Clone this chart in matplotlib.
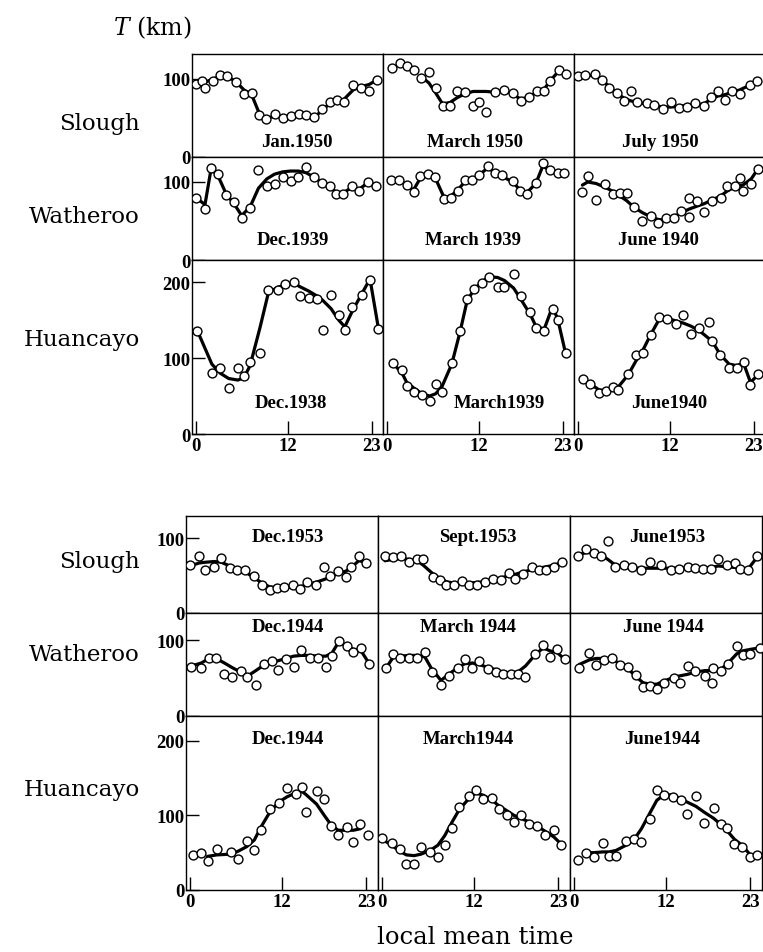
#!/usr/bin/env python3
"""
Diurnal variation of T (km) at Slough, Watheroo and Huancayo
"""

import matplotlib
matplotlib.use('Agg')
import matplotlib.pyplot as plt

plt.rcParams['font.family'] = ['Liberation Serif', 'DejaVu Serif']
plt.rcParams['mathtext.fontset'] = 'dejavuserif'

# ---- data: local mean time (h), observed T (km), fitted curve T (km) ----
# upper block
slough_jan1950_h = [0.0, 0.8, 1.2, 2.3, 3.1, 4.1, 5.2, 6.3, 7.3, 8.3, 9.2, 10.4, 11.4, 12.5, 13.5, 14.4, 15.5, 16.5, 17.5, 18.5, 19.4, 20.6, 21.6, 22.7, 23.7]
slough_jan1950_obs = [94, 98, 89, 98, 105, 104, 96, 81, 82, 54, 49, 55, 50, 53, 55, 54, 51, 62, 70, 73, 71, 92, 88, 84, 99]
slough_jan1950_fit = [93, 95, 96, 100, 103, 103, 97, 86, 80, 56, 50, 52, 52, 52, 52, 51, 50, 60, 68, 71, 74, 86, 90, 93, 99]

slough_mar1950_h = [0.7, 1.7, 2.7, 3.6, 4.5, 5.5, 6.4, 7.3, 8.3, 9.2, 10.2, 11.3, 12.1, 13.0, 14.2, 15.4, 16.5, 17.5, 18.6, 19.6, 20.6, 21.4, 22.5, 23.5]
slough_mar1950_obs = [114, 120, 117, 112, 101, 109, 88, 66, 66, 85, 83, 65, 70, 58, 83, 86, 82, 72, 77, 84, 84, 98, 112, 107]
slough_mar1950_fit = [None, None, None, None, 103, 95, 82, 68, 70, 76, 81, 84, 84, 84, 83, 85, 81, 74, 77, 83, 87, 98, 110, None]

slough_jul1950_h = [0.0, 1.0, 2.2, 3.2, 4.1, 5.1, 6.1, 6.9, 7.8, 9.0, 10.0, 11.1, 12.2, 13.2, 14.3, 15.4, 16.5, 17.4, 18.3, 19.3, 20.2, 21.2, 22.5, 23.4]
slough_jul1950_obs = [104, 105, 106, 99, 89, 82, 72, 84, 70, 69, 67, 62, 71, 63, 64, 69, 65, 77, 84, 73, 85, 81, 92, 97]
slough_jul1950_fit = [103, 105, 104, 99, 90, 82, 75, 72, 70, 68, 66, 64, 64, 65, 66, 67, 68, 74, 78, 80, 83, 86, 92, 97]

watheroo_dec1939_h = [0.0, 1.2, 2.0, 2.9, 4.0, 5.0, 6.0, 7.1, 8.2, 9.3, 10.3, 11.4, 12.4, 13.4, 14.4, 15.5, 16.5, 17.5, 18.3, 19.3, 20.4, 21.3, 22.5, 23.6]
watheroo_dec1939_obs = [79, 65, 118, 110, 83, 74, 54, 67, 115, 95, 98, 106, 101, 106, 119, 106, 99, 95, 84, 84, 95, 88, 100, 95]
watheroo_dec1939_fit = [80, 71, 117, 108, 84, 72, 57, 68, 92, 104, 110, 113, 114, 114, 112, 106, 99, 95, 87, 86, 93, 90, 99, 95]

watheroo_mar1939_h = [0.6, 1.6, 2.6, 3.5, 4.4, 5.4, 6.3, 7.5, 8.4, 9.3, 10.2, 11.2, 12.1, 13.2, 14.2, 15.1, 16.5, 17.4, 18.3, 19.5, 20.4, 21.4, 22.4, 23.2]
watheroo_mar1939_obs = [103, 102, 96, 87, 108, 110, 107, 78, 79, 88, 103, 103, 109, 121, 112, 109, 101, 88, 85, 99, 124, 115, 111, 111]
watheroo_mar1939_fit = [None, None, 95, 90, 105, 108, 106, 80, 82, 90, 100, 104, 109, 118, 112, 107, 100, 90, 86, 98, 120, 115, None, None]

watheroo_jun1940_h = [0.6, 1.3, 2.4, 3.6, 4.6, 5.5, 6.4, 7.3, 8.4, 9.6, 10.5, 11.5, 12.6, 13.5, 14.5, 14.6, 15.6, 16.5, 17.6, 18.7, 19.5, 20.6, 21.2, 21.6, 22.7, 23.6]
watheroo_jun1940_obs = [87, 108, 77, 97, 85, 86, 86, 68, 50, 57, 48, 54, 54, 63, 55, 80, 76, 62, 76, 80, 95, 95, 105, 88, 97, 117]
watheroo_jun1940_fit = [96, 100, 98, 93, 88, 82, 76, 68, 61, 55, 52, 51, 56, 60, 65, None, 69, 72, 77, 82, 88, 94, None, 96, 104, 117]

huancayo_dec1938_h = [0.2, 2.1, 3.2, 4.3, 5.5, 6.3, 7.1, 8.4, 9.5, 10.7, 11.7, 12.8, 13.6, 14.8, 15.8, 16.6, 17.7, 18.7, 19.5, 20.5, 21.8, 22.8, 23.9]
huancayo_dec1938_obs = [136, 80, 87, 60, 87, 76, 95, 107, 190, 189, 197, 200, 182, 179, 178, 137, 183, 157, 137, 167, 183, 203, 138]
huancayo_dec1938_fit = [136, 92, 80, 73, 71, 74, 90, 140, 186, 193, 196, 199, 194, 188, 182, 176, 165, 150, 141, 162, 186, 204, 139]

huancayo_mar1939_h = [0.8, 2.0, 2.6, 3.6, 4.6, 5.6, 6.4, 7.2, 8.5, 9.6, 10.5, 11.4, 12.4, 13.4, 14.5, 15.4, 16.6, 17.5, 18.8, 19.5, 20.6, 21.7, 22.4, 23.4]
huancayo_mar1939_obs = [93, 84, 63, 55, 51, 44, 66, 55, 93, 135, 178, 191, 199, 207, 194, 194, 210, 181, 161, 140, 136, 165, 150, 106]
huancayo_mar1939_fit = [93, 80, 68, 60, 53, 50, 53, 62, 92, 135, 175, 190, 200, 207, 206, 202, 192, 178, 157, 142, 138, 168, 150, 106]

huancayo_jun1940_h = [0.7, 1.6, 2.8, 3.7, 4.6, 5.3, 6.6, 7.6, 8.5, 9.6, 10.6, 11.7, 12.8, 13.8, 14.8, 15.9, 17.2, 17.6, 18.6, 19.8, 20.8, 21.7, 22.6, 23.6]
huancayo_jun1940_obs = [72, 66, 54, 56, 62, 58, 79, 104, 107, 130, 154, 152, 145, 157, 131, 140, 147, 123, 104, 87, 87, 95, 65, 79]
huancayo_jun1940_fit = [72, 66, 58, 57, 58, 62, 78, 96, 110, 132, 150, 152, 149, 146, 142, 136, None, 122, 105, 92, 90, 93, 68, 78]

# lower block
slough_dec1953_h = [0.0, 1.2, 2.0, 3.2, 4.1, 5.2, 6.2, 7.2, 8.3, 9.4, 10.4, 11.4, 12.3, 13.4, 14.3, 15.3, 16.4, 17.5, 18.3, 19.3, 20.3, 21.0, 22.0, 23.0]
slough_dec1953_obs = [64, 76, 58, 62, 74, 60, 58, 57, 49, 37, 31, 33, 35, 38, 32, 41, 38, 61, 49, 56, 48, 61, 76, 67]
slough_dec1953_fit = [63, 67, 68, 69, 68, 63, 59, 55, 48, 40, 35, 34, 34, 35, 35, 38, 41, 45, 48, 53, 56, 61, 70, 68]

slough_sep1953_h = [0.4, 1.5, 2.5, 3.5, 4.6, 5.4, 6.6, 7.6, 8.4, 9.4, 10.4, 11.3, 12.4, 13.4, 14.5, 15.5, 16.5, 17.4, 18.4, 19.5, 20.4, 21.4, 22.4, 23.5]
slough_sep1953_obs = [76, 75, 76, 68, 73, 72, 48, 44, 38, 37, 43, 38, 38, 41, 46, 44, 54, 46, 52, 61, 58, 58, 61, 69]
slough_sep1953_fit = [70, 72, 73, 72, 70, 64, 53, 46, 42, 40, 40, 40, 41, 42, 44, 47, 50, 52, 55, 58, 60, 62, 64, 68]

slough_jun1953_h = [0.6, 1.6, 2.6, 3.5, 4.4, 5.3, 6.5, 7.6, 8.7, 9.9, 11.3, 12.6, 13.7, 14.8, 15.8, 16.8, 17.8, 18.8, 19.9, 21.0, 21.7, 22.7, 23.8]
slough_jun1953_obs = [76, 86, 81, 76, 96, 61, 64, 61, 57, 68, 65, 58, 59, 61, 60, 59, 59, 72, 64, 67, 59, 58, 76]
slough_jun1953_fit = [78, 81, 81, 78, 72, 65, 62, 60, 60, 60, 60, 60, 60, 60, 60, 60, 61, 63, 62, 61, 59, 59, 74]

watheroo_dec1944_h = [0.2, 1.5, 2.5, 3.4, 4.5, 5.5, 6.6, 7.4, 8.6, 9.6, 10.7, 11.5, 12.5, 13.5, 14.5, 15.6, 16.7, 17.7, 18.5, 19.4, 20.4, 21.3, 22.3, 23.3]
watheroo_dec1944_obs = [65, 64, 76, 76, 56, 52, 59, 51, 41, 69, 72, 61, 75, 65, 87, 76, 76, 65, 79, 99, 93, 85, 90, 69]
watheroo_dec1944_fit = [66, 70, 76, 76, 70, 64, 58, 52, 60, 67, 71, 73, 76, 79, 80, 80, 79, 79, 83, 98, 92, 88, 86, 70]

watheroo_mar1944_h = [0.6, 1.5, 2.4, 3.5, 4.6, 5.6, 6.5, 7.7, 8.7, 9.9, 10.8, 11.8, 12.7, 13.8, 14.9, 15.8, 16.8, 17.7, 18.7, 19.9, 21.0, 21.9, 22.8, 23.8]
watheroo_mar1944_obs = [64, 82, 76, 76, 76, 85, 58, 41, 53, 64, 75, 64, 73, 62, 58, 55, 56, 56, 51, 82, 94, 78, 89, 75]
watheroo_mar1944_fit = [64, 78, 79, 80, 80, 78, 62, 47, 55, 64, 69, 70, 68, 64, 61, 58, 57, 58, 66, 80, 90, 86, 84, 75]

watheroo_jun1944_h = [0.7, 2.0, 2.9, 3.9, 5.0, 6.0, 7.1, 8.1, 9.0, 9.9, 10.8, 11.7, 13.0, 13.8, 14.8, 15.8, 17.1, 18.0, 18.1, 19.2, 20.1, 21.2, 22.0, 23.0, 24.2]
watheroo_jun1944_obs = [64, 83, 68, 74, 76, 67, 65, 54, 38, 40, 36, 44, 50, 44, 66, 60, 53, 44, 63, 60, 69, 92, 81, 82, 90]
watheroo_jun1944_fit = [68, 74, 76, 76, 75, 69, 62, 52, 44, 42, 42, 46, 51, 53, 55, 58, 60, None, 60, 62, 70, 82, 86, 88, 90]

huancayo_dec1944_h = [0.4, 1.5, 2.3, 3.5, 5.3, 6.3, 7.4, 8.4, 9.3, 10.4, 11.6, 12.7, 13.8, 14.6, 15.1, 16.5, 17.5, 18.4, 19.3, 20.4, 21.3, 22.2, 23.2]
huancayo_dec1944_obs = [47, 49, 39, 55, 51, 41, 66, 54, 81, 109, 116, 137, 128, 138, 105, 133, 122, 86, 73, 85, 64, 88, 73]
huancayo_dec1944_fit = [None, None, 45, 47, 48, 52, 58, 67, 85, 104, 118, 125, 130, 132, 128, 115, 100, 87, 80, 80, 80, 82, None]

huancayo_mar1944_h = [0.0, 1.3, 2.3, 3.2, 4.2, 5.1, 6.3, 7.3, 8.2, 9.2, 10.1, 11.3, 12.2, 13.2, 14.4, 15.2, 16.3, 17.2, 18.1, 19.2, 20.2, 21.2, 22.4, 23.3]
huancayo_mar1944_obs = [69, 63, 55, 35, 35, 58, 51, 44, 60, 83, 111, 126, 134, 122, 123, 108, 100, 91, 101, 88, 86, 74, 81, 60]
huancayo_mar1944_fit = [68, 60, 52, 47, 46, 48, 53, 60, 73, 92, 108, 122, 130, 127, 120, 113, 106, 100, 96, 91, 86, 79, 71, 62]

huancayo_jun1944_h = [0.6, 1.6, 2.6, 3.8, 4.6, 5.5, 6.8, 7.8, 8.8, 9.9, 10.8, 11.8, 12.9, 13.9, 14.7, 15.9, 17.0, 18.2, 19.1, 19.9, 20.9, 21.9, 22.9, 23.8]
huancayo_jun1944_obs = [40, 50, 44, 63, 46, 46, 66, 68, 64, 95, 134, 127, 125, 120, 102, 126, 90, 110, 88, 83, 62, 58, 44, 47]
huancayo_jun1944_fit = [None, 50, 50, 51, 51, 53, 60, 67, 82, 103, 120, 128, 127, 122, 118, 112, 104, 96, 88, 80, 68, 60, 48, None]

# each block: rows of (station, ymax, yticks, panels), panel = (h, obs, fit, title)
upper_block = [
    ('Slough', 132, [0, 100], [
        (slough_jan1950_h, slough_jan1950_obs, slough_jan1950_fit, 'Jan.1950'),
        (slough_mar1950_h, slough_mar1950_obs, slough_mar1950_fit, 'March 1950'),
        (slough_jul1950_h, slough_jul1950_obs, slough_jul1950_fit, 'July 1950')]),
    ('Watheroo', 132, [0, 100], [
        (watheroo_dec1939_h, watheroo_dec1939_obs, watheroo_dec1939_fit, 'Dec.1939'),
        (watheroo_mar1939_h, watheroo_mar1939_obs, watheroo_mar1939_fit, 'March 1939'),
        (watheroo_jun1940_h, watheroo_jun1940_obs, watheroo_jun1940_fit, 'June 1940')]),
    ('Huancayo', 229, [0, 100, 200], [
        (huancayo_dec1938_h, huancayo_dec1938_obs, huancayo_dec1938_fit, 'Dec.1938'),
        (huancayo_mar1939_h, huancayo_mar1939_obs, huancayo_mar1939_fit, 'March1939'),
        (huancayo_jun1940_h, huancayo_jun1940_obs, huancayo_jun1940_fit, 'June1940')]),
]
lower_block = [
    ('Slough', 130, [0, 100], [
        (slough_dec1953_h, slough_dec1953_obs, slough_dec1953_fit, 'Dec.1953'),
        (slough_sep1953_h, slough_sep1953_obs, slough_sep1953_fit, 'Sept.1953'),
        (slough_jun1953_h, slough_jun1953_obs, slough_jun1953_fit, 'June1953')]),
    ('Watheroo', 136, [0, 100], [
        (watheroo_dec1944_h, watheroo_dec1944_obs, watheroo_dec1944_fit, 'Dec.1944'),
        (watheroo_mar1944_h, watheroo_mar1944_obs, watheroo_mar1944_fit, 'March 1944'),
        (watheroo_jun1944_h, watheroo_jun1944_obs, watheroo_jun1944_fit, 'June 1944')]),
    ('Huancayo', 233, [0, 100, 200], [
        (huancayo_dec1944_h, huancayo_dec1944_obs, huancayo_dec1944_fit, 'Dec.1944'),
        (huancayo_mar1944_h, huancayo_mar1944_obs, huancayo_mar1944_fit, 'March1944'),
        (huancayo_jun1944_h, huancayo_jun1944_obs, huancayo_jun1944_fit, 'June1944')]),
]

# ---- layout in pixels ----
W, H = 763, 953
upper_rows_px = [(55, 158), (158, 261), (261, 435)]
upper_cols_px = [(192, 383), (383, 574), (574, 765)]
lower_rows_px = [(517, 614), (614, 717), (717, 891)]
lower_cols_px = [(186, 378), (378, 570), (570, 762)]

upper_title_pos = [[(0.55, 0.15), (0.48, 0.15), (0.45, 0.15)],
                   [(0.53, 0.20), (0.47, 0.20), (0.44, 0.20)],
                   [(0.52, 0.18), (0.61, 0.18), (0.50, 0.18)]]
lower_title_pos = [[(0.53, 0.79), (0.52, 0.79), (0.505, 0.79)],
                   [(0.53, 0.865), (0.47, 0.865), (0.485, 0.865)],
                   [(0.53, 0.87), (0.47, 0.87), (0.48, 0.87)]]
upper_label_y = [124, 217, 340]
lower_label_y = [562, 655, 790]

num_font = dict(family='Liberation Serif', weight='bold', size=13.5)
word_font = dict(family='DejaVu Serif', size=16.5)

fig = plt.figure(figsize=(W / 100, H / 100), dpi=100)


def px_rect(x0, x1, y0, y1):
    return [x0 / W, 1 - y1 / H, (x1 - x0) / W, (y1 - y0) / H]


def draw_block(block, rows_px, cols_px, title_pos, label_y):
    for r, (station, ymax, yticks, panels) in enumerate(block):
        y0, y1 = rows_px[r]
        last_row = r == len(block) - 1
        for c, (h, obs, fit, title) in enumerate(panels):
            x0, x1 = cols_px[c]
            ax = fig.add_axes(px_rect(x0, x1, y0, y1))
            fh = [x for x, f in zip(h, fit) if f is not None]
            ff = [f for f in fit if f is not None]
            ax.plot(fh, ff, color='black', lw=2.3, solid_joinstyle='round',
                    solid_capstyle='round', zorder=2)
            ax.plot(h, obs, 'o', ms=6.4, mfc='white', mec='black', mew=1.0, zorder=3)
            ax.set_xlim(-0.5, 24.5)
            ax.set_ylim(0, ymax)
            for sp in ax.spines.values():
                sp.set_linewidth(1.0)
            tx, ty = title_pos[r][c]
            ax.text(tx, ty, title, transform=ax.transAxes, ha='center', va='center',
                    **num_font)
            if c == 0:
                ax.set_yticks(yticks)
                ax.set_yticklabels([str(v) for v in yticks], **num_font)
                ax.tick_params(axis='y', direction='in', length=9, width=1.0, pad=1)
            else:
                ax.set_yticks([])
            if last_row:
                ax.set_xticks([0, 12, 23])
                ax.set_xticklabels(['0', '12', '23'], **num_font)
                ax.tick_params(axis='x', direction='in', length=9.5, width=1.0, pad=2)
            else:
                ax.set_xticks([])
        fig.text(140 / W, 1 - label_y[r] / H, station, ha='right', va='center', **word_font)


draw_block(upper_block, upper_rows_px, upper_cols_px, upper_title_pos, upper_label_y)
draw_block(lower_block, lower_rows_px, lower_cols_px, lower_title_pos, lower_label_y)

fig.text(152 / W, 1 - 28 / H, '$T$ (km)', ha='center', va='center', family='DejaVu Serif', size=17)
fig.text(475 / W, 1 - 938 / H, 'local mean time', ha='center', va='center', family='DejaVu Serif', size=17.5)

fig.savefig('out.png', dpi=100)
